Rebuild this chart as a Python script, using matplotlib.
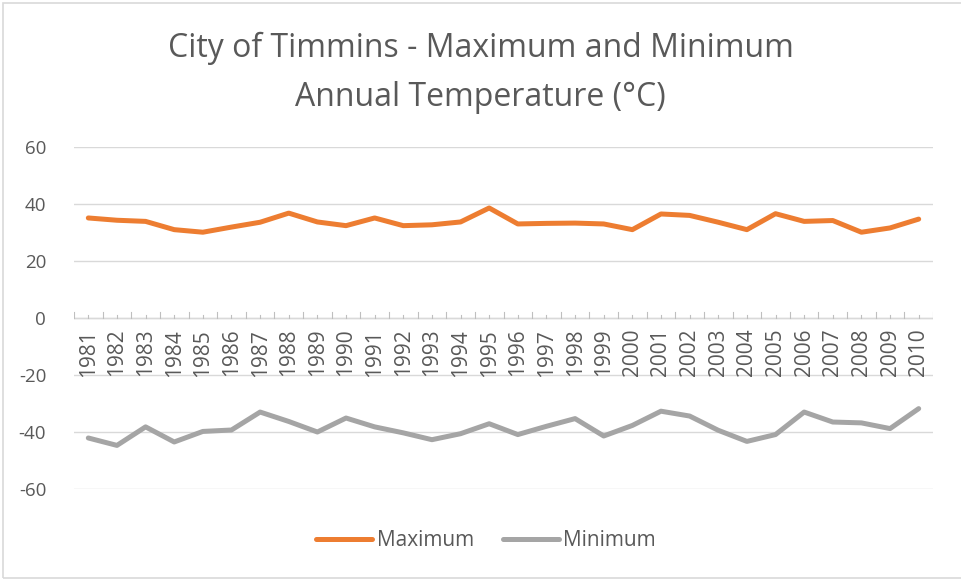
import matplotlib
matplotlib.use('agg')
import matplotlib.pyplot as plt
from matplotlib.patches import Rectangle
import numpy as np

years = [str(y) for y in range(1981, 2011)]
maximum = [35.1, 34.3, 33.9, 31.0, 30.1, 31.9, 33.6, 36.8, 33.7, 32.4,
           35.1, 32.4, 32.7, 33.7, 38.6, 33.0, 33.2, 33.3, 33.0, 31.0,
           36.5, 36.0, 33.6, 31.0, 36.6, 33.9, 34.2, 30.1, 31.6, 34.7]
minimum = [-42.1, -44.7, -38.2, -43.5, -39.8, -39.3, -33.0, -36.3, -40.0, -35.1,
           -38.2, -40.3, -42.7, -40.6, -37.1, -40.9, -38.0, -35.3, -41.4, -37.7,
           -32.7, -34.4, -39.4, -43.3, -40.9, -33.0, -36.5, -36.8, -38.8, -31.8]
yticks = [-60, -40, -20, 0, 20, 40, 60]

txt = '#595959'
plt.rcParams['font.family'] = ['Open Sans', 'DejaVu Sans']

W, H = 961, 580
fig = plt.figure(figsize=(W/100, H/100), dpi=100)
ax = fig.add_axes([74/W, 1-489/H, (933-74)/W, (489-147)/H])

x = np.arange(len(years))
ax.plot(x, maximum, color='#ED7D31', lw=3.6, solid_capstyle='round', solid_joinstyle='round', label='Maximum')
ax.plot(x, minimum, color='#A5A5A5', lw=3.6, solid_capstyle='round', solid_joinstyle='round', label='Minimum')

ax.set_xlim(-0.5, len(years)-0.5)
ax.set_ylim(-60, 60)
ax.set_yticks(yticks)
ax.set_yticklabels([str(v) for v in yticks])
ax.tick_params(axis='y', length=0, pad=20, labelsize=13.5, labelcolor=txt)
ax.grid(axis='y', color='#D9D9D9', lw=1)
ax.set_axisbelow(True)
for s in ['top', 'right', 'left', 'bottom']:
    ax.spines[s].set_visible(False)

# category axis drawn at y=0
ax.axhline(0, color='#D9D9D9', lw=1, zorder=1)
for i in range(len(years)+1):
    ax.plot([i-0.5, i-0.5], [0, 2.2], color='#BFBFBF', lw=0.8, zorder=1)
for i in range(len(years)):
    ax.plot([i, i], [0, 1.1], color='#BFBFBF', lw=0.8, zorder=1)
ax.set_xticks([])
for i, yr in enumerate(years):
    ax.text(i, -3.8, yr, rotation=90, ha='center', va='top', fontsize=15, color=txt)

fig.text(0.5, 1-48/H, 'City of Timmins - Maximum and Minimum', ha='center', va='center',
         fontsize=23, color=txt)
fig.text(0.5, 1-97/H, 'Annual Temperature (°C)', ha='center', va='center',
         fontsize=23, color=txt)

leg = fig.legend(loc='center', bbox_to_anchor=(486/W, 1-541/H), ncol=2, frameon=False,
                 fontsize=15, handlelength=2.7, handletextpad=0.2, columnspacing=1.4)
for t in leg.get_texts():
    t.set_color(txt)

fig.patches.append(Rectangle((3/W, 2/H), 1.1, 1-5/H, transform=fig.transFigure,
                             fill=False, edgecolor='#D9D9D9', lw=1.2))

plt.savefig('out.png', dpi=100)
